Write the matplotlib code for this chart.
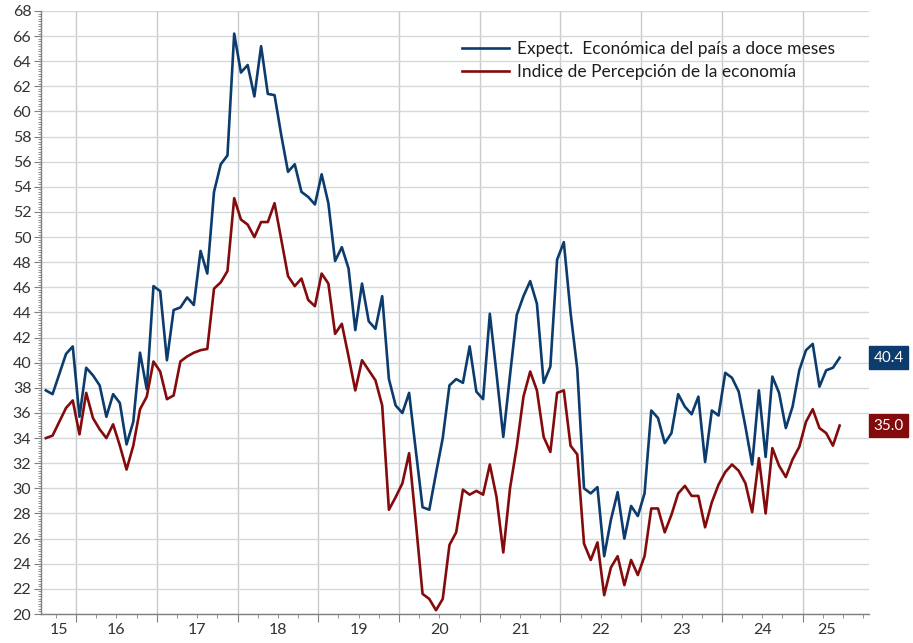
import matplotlib
matplotlib.use('Agg')
import matplotlib.pyplot as plt
import matplotlib.transforms as mtransforms
from matplotlib.ticker import MultipleLocator
import numpy as np

plt.rcParams['font.family'] = ['Lato', 'DejaVu Sans']

# monthly series, first value = August 2015
start_year, start_month = 2015, 8

expect = [
    37.8, 37.5, 39.1, 40.7, 41.3,
    35.7, 39.6, 39.0, 38.2, 35.7, 37.5, 36.8, 33.5, 35.3, 40.8, 37.9, 46.1,
    45.7, 40.2, 44.2, 44.4, 45.2, 44.6, 48.9, 47.1, 53.6, 55.8, 56.5, 66.2,
    63.1, 63.7, 61.2, 65.2, 61.4, 61.3, 58.1, 55.2, 55.8, 53.6, 53.2, 52.6,
    55.0, 52.7, 48.1, 49.2, 47.5, 42.6, 46.3, 43.3, 42.7, 45.3, 38.7, 36.6,
    36.0, 37.6, 33.0, 28.5, 28.3, 31.2, 34.0, 38.2, 38.7, 38.4, 41.3, 37.7,
    37.1, 43.9, 39.1, 34.1, 39.0, 43.8, 45.3, 46.5, 44.7, 38.4, 39.7, 48.2,
    49.6, 44.0, 39.5, 30.0, 29.6, 30.1, 24.6, 27.5, 29.7, 26.0, 28.6, 27.8,
    29.6, 36.2, 35.6, 33.6, 34.4, 37.5, 36.5, 35.9, 37.3, 32.1, 36.2, 35.8,
    39.2, 38.8, 37.7, 34.9, 31.9, 37.8, 32.5, 38.9, 37.6, 34.8, 36.5, 39.4,
    41.0, 41.5, 38.1, 39.4, 39.6, 40.4,
]

ipec = [
    34.0, 34.2, 35.3, 36.4, 37.0,
    34.3, 37.6, 35.6, 34.7, 34.0, 35.1, 33.4, 31.5, 33.4, 36.3, 37.3, 40.1,
    39.3, 37.1, 37.4, 40.1, 40.5, 40.8, 41.0, 41.1, 45.9, 46.4, 47.3, 53.1,
    51.4, 51.0, 50.0, 51.2, 51.2, 52.7, 49.8, 46.9, 46.1, 46.7, 45.0, 44.5,
    47.1, 46.3, 42.3, 43.1, 40.5, 37.8, 40.2, 39.4, 38.6, 36.6, 28.3, 29.3,
    30.4, 32.8, 27.3, 21.6, 21.2, 20.3, 21.2, 25.5, 26.5, 29.9, 29.5, 29.8,
    29.5, 31.9, 29.3, 24.9, 30.0, 33.3, 37.3, 39.3, 37.8, 34.1, 32.9, 37.6,
    37.8, 33.4, 32.7, 25.6, 24.3, 25.7, 21.5, 23.7, 24.6, 22.3, 24.3, 23.1,
    24.6, 28.4, 28.4, 26.5, 27.9, 29.6, 30.2, 29.4, 29.4, 26.9, 28.9, 30.3,
    31.3, 31.9, 31.4, 30.4, 28.1, 32.4, 28.0, 33.2, 31.8, 30.9, 32.3, 33.3,
    35.3, 36.3, 34.8, 34.4, 33.4, 35.0,
]

label_expect = 'Expect.  Económica del país a doce meses'
label_ipec = 'Indice de Percepción de la economía'
year_labels = ['15', '16', '17', '18', '19', '20', '21', '22', '23', '24', '25']

blue = '#0c3b6d'
red = '#840b0b'
grid_col = '#d4d8da'

# month centres as decimal years
idx = np.arange(len(expect))
x = start_year + (start_month - 1 + idx + 0.5) / 12.0

fig = plt.figure(figsize=(9.13, 6.43), dpi=100)
ax = fig.add_axes([0.0449, 0.0451, 0.9069, 0.9378])

ax.plot(x, expect, color=blue, lw=1.9, label=label_expect, zorder=3)
ax.plot(x, ipec, color=red, lw=1.9, label=label_ipec, zorder=3)

xmin = x[0] - 0.06
xmax = 2025.822
ax.set_xlim(xmin, xmax)
ax.set_ylim(20, 68)

ax.yaxis.set_major_locator(MultipleLocator(2))
ax.yaxis.set_minor_locator(MultipleLocator(0.2))
first_year = int(year_labels[0]) + 2000
years = np.arange(first_year + 1, first_year + len(year_labels))
ax.set_xticks(years)
ax.set_xticklabels([])
ax.set_xticks([y + q for y in range(first_year, first_year + len(year_labels))
               for q in (0.25, 0.5, 0.75) if xmin < y + q < xmax], minor=True)

ax.grid(axis='y', which='major', color=grid_col, lw=1.0, zorder=0)
ax.grid(axis='x', which='major', color='#c6cbcd', lw=1.0, zorder=0)

for s in ('top', 'right'):
    ax.spines[s].set_visible(False)
for s in ('left', 'bottom'):
    ax.spines[s].set_color('#7f7f7f')
    ax.spines[s].set_linewidth(1.0)

ax.tick_params(axis='y', which='major', length=5, color='#7f7f7f',
               labelsize=11.5, labelcolor='#333333', pad=2)
ax.tick_params(axis='y', which='minor', length=2.5, color='#7f7f7f')
ax.tick_params(axis='x', which='major', length=6, color='#7f7f7f')
ax.tick_params(axis='x', which='minor', length=3, color='#7f7f7f')

# year labels centred on the visible part of each year
end_cat = x[-1] + 1.5 / 12
trans = mtransforms.blended_transform_factory(ax.transData, ax.transAxes)
for lab in year_labels:
    y0 = int(lab) + 2000
    lo, hi = max(y0, xmin), min(y0 + 1, end_cat)
    ax.text((lo + hi) / 2, -0.015, lab, transform=trans, ha='center', va='top',
            fontsize=11.5, color='#333333')

# last value boxes on the right
ytrans = mtransforms.blended_transform_factory(ax.transAxes, ax.transData)
for series, col in ((expect, blue), (ipec, red)):
    ax.text(1.0055, series[-1], f'{series[-1]:.1f}', transform=ytrans,
            ha='left', va='center', fontsize=11, color='white',
            bbox=dict(boxstyle='square,pad=0.28', fc=col, ec=col))

leg = ax.legend(loc='upper left', bbox_to_anchor=(0.5, 0.962), frameon=False,
                fontsize=12.5, handlelength=2.7, handletextpad=0.45,
                labelspacing=0.4, borderaxespad=0)
for t in leg.get_texts():
    t.set_color('#1e1e1e')

fig.savefig('out.png', dpi=100)
